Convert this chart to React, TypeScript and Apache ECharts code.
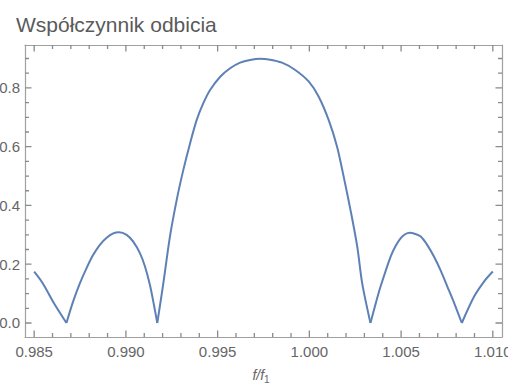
import React, { useEffect, useRef } from "react";
import * as echarts from "echarts";

// Reflection coefficient vs normalised frequency f/f1
const freq = [
  0.985, 0.98545, 0.98608, 0.98676,
  0.98712, 0.98749, 0.98785, 0.98821, 0.98858, 0.98895, 0.98931, 0.98963,
  0.99004, 0.9904, 0.99077, 0.99104, 0.99131, 0.99153, 0.99171,
  0.99204, 0.9924, 0.99277, 0.99313, 0.9935, 0.99386, 0.99422, 0.99459, 0.99514,
  0.99568, 0.99623, 0.99677, 0.99732, 0.99778, 0.99851, 0.99923, 0.99996,
  1.00051, 1.00105, 1.00151, 1.00187, 1.00224, 1.00261, 1.00288, 1.00333,
  1.00361, 1.00388, 1.00443, 1.0047, 1.00497, 1.00522, 1.00548, 1.00577,
  1.00607, 1.00643, 1.00679, 1.00716, 1.00752, 1.00793, 1.00831,
  1.00898, 1.00952, 1.01,
];
const refl = [
  0.175, 0.137, 0.067, 0,
  0.0725, 0.135, 0.186, 0.231, 0.266, 0.29, 0.305, 0.309,
  0.3, 0.277, 0.237, 0.192, 0.129, 0.061, 0,
  0.135, 0.294, 0.419, 0.521, 0.612, 0.691, 0.748, 0.793, 0.838,
  0.867, 0.886, 0.895, 0.899, 0.897, 0.886, 0.861, 0.822,
  0.77, 0.691, 0.6, 0.498, 0.385, 0.26, 0.135, 0,
  0.065, 0.124, 0.226, 0.262, 0.288, 0.302, 0.307, 0.303,
  0.294, 0.265, 0.226, 0.178, 0.124, 0.062, 0,
  0.09, 0.141, 0.175,
];

const xMajor = [0.985, 0.99, 0.995, 1.0, 1.005, 1.01];
const xMinor = [
  0.986, 0.987, 0.988, 0.989, 0.991, 0.992, 0.993, 0.994, 0.996, 0.997, 0.998,
  0.999, 1.001, 1.002, 1.003, 1.004, 1.006, 1.007, 1.008, 1.009,
];
const yMajor = [0, 0.2, 0.4, 0.6, 0.8];
const yMinor = [
  0.05, 0.1, 0.15, 0.25, 0.3, 0.35, 0.45, 0.5, 0.55, 0.65, 0.7, 0.75, 0.85, 0.9,
];

const title = "Współczynnik odbicia";

const FONT = "'Liberation Sans', Arial, Helvetica, sans-serif";
const TICK = "#8a8a8a";
const FRAME = "#a0a0a0";
const LABEL = "#666666";
const LINE = "#5e81b5";

const X_MIN = 0.9845;
const X_MAX = 1.0105;
const Y_MIN = -0.0477;
const Y_MAX = 0.946;

const W = 508;
const H = 383;
const G_LEFT = 25;
const G_RIGHT = 6;
const G_TOP = 45;
const G_BOTTOM = 46;
const DX_PX = (X_MAX - X_MIN) / (W - G_LEFT - G_RIGHT);
const DY_PX = (Y_MAX - Y_MIN) / (H - G_TOP - G_BOTTOM);

function buildSegments(): number[][][] {
  const segs: number[][][] = [];
  let cur: number[][] = [];
  for (let i = 0; i < freq.length; i++) {
    const p = [freq[i], refl[i]];
    cur.push(p);
    if (refl[i] === 0 && cur.length > 1) {
      segs.push(cur);
      cur = [p];
    }
  }
  if (cur.length > 1) segs.push(cur);
  return segs;
}

// inside frame ticks on all four sides, drawn as broken line series
function tickData(lenMajor: number, lenMinor: number): any[] {
  const out: any[] = [];
  const addX = (v: number, len: number) => {
    out.push([v, Y_MIN], [v, Y_MIN + len * DY_PX], [v, "-"]);
    out.push([v, Y_MAX], [v, Y_MAX - len * DY_PX], [v, "-"]);
  };
  const addY = (v: number, len: number) => {
    out.push([X_MIN, v], [X_MIN + len * DX_PX, v], ["-", v]);
    out.push([X_MAX, v], [X_MAX - len * DX_PX, v], ["-", v]);
  };
  xMajor.forEach((v) => addX(v, lenMajor));
  xMinor.forEach((v) => addX(v, lenMinor));
  yMajor.forEach((v) => addY(v, lenMajor));
  yMinor.forEach((v) => addY(v, lenMinor));
  return out;
}

export default function App() {
  const ref = useRef<HTMLDivElement>(null);

  useEffect(() => {
    if (!ref.current) return;
    const chart = echarts.init(ref.current, null, { renderer: "svg" });
    const segs = buildSegments();
    const lineX = { show: true, onZero: false, lineStyle: { color: FRAME, width: 1.2 } };
    chart.setOption({
      animation: false,
      backgroundColor: "#ffffff",
      title: {
        text: title,
        left: 11,
        top: 9,
        textStyle: {
          fontSize: 21,
          fontWeight: "normal",
          color: "#5a5a5a",
          fontFamily: FONT,
        },
      },
      grid: {
        show: false,
        left: G_LEFT,
        right: G_RIGHT,
        top: G_TOP,
        bottom: G_BOTTOM,
        containLabel: false,
        outerBoundsMode: "none",
      },
      xAxis: [
        {
          type: "value",
          position: "bottom",
          min: X_MIN,
          max: X_MAX,
          axisLine: lineX,
          splitLine: { show: false },
          axisTick: { show: false },
          axisLabel: {
            show: true,
            customValues: xMajor,
            formatter: (v: number) => v.toFixed(3),
            margin: 7,
            color: LABEL,
            fontSize: 15,
            fontFamily: FONT,
          },
        },
        {
          type: "value",
          position: "top",
          min: X_MIN,
          max: X_MAX,
          axisLine: lineX,
          splitLine: { show: false },
          axisTick: { show: false },
          axisLabel: { show: false },
        },
      ],
      yAxis: [
        {
          type: "value",
          position: "left",
          min: Y_MIN,
          max: Y_MAX,
          axisLine: lineX,
          splitLine: { show: false },
          axisTick: { show: false },
          axisLabel: {
            show: true,
            customValues: yMajor,
            formatter: (v: number) => v.toFixed(1),
            margin: 5,
            color: LABEL,
            fontSize: 15,
            fontFamily: FONT,
          },
        },
        {
          type: "value",
          position: "right",
          min: Y_MIN,
          max: Y_MAX,
          axisLine: lineX,
          splitLine: { show: false },
          axisTick: { show: false },
          axisLabel: { show: false },
        },
      ],
      graphic: [
        {
          type: "text",
          x: 261,
          y: 375,
          style: {
            text: "{a|f/f}{b|1}",
            align: "center",
            verticalAlign: "middle",
            rich: {
              a: {
                fontSize: 14,
                fontStyle: "italic",
                fontFamily: FONT,
                fill: LABEL,
              },
              b: {
                fontSize: 10,
                fontFamily: FONT,
                fill: LABEL,
                padding: [8, 0, 0, 0],
              },
            },
          },
        },
      ],
      series: [
        {
          type: "line",
          xAxisIndex: 0,
          yAxisIndex: 0,
          data: tickData(6.5, 4),
          connectNulls: false,
          smooth: false,
          symbol: "none",
          silent: true,
          clip: false,
          z: 5,
          lineStyle: { color: TICK, width: 1.3 },
        },
        ...segs.map((d) => ({
          type: "line",
          xAxisIndex: 0,
          yAxisIndex: 0,
          data: d,
          smooth: 0.3,
          symbol: "none",
          clip: true,
          z: 10,
          lineStyle: { color: LINE, width: 2 },
        })),
      ],
    });
    return () => chart.dispose();
  }, []);

  return (
    <div
      ref={ref}
      style={{
        position: "fixed",
        left: 0,
        top: 0,
        width: W,
        height: H,
        background: "#fff",
      }}
    />
  );
}
